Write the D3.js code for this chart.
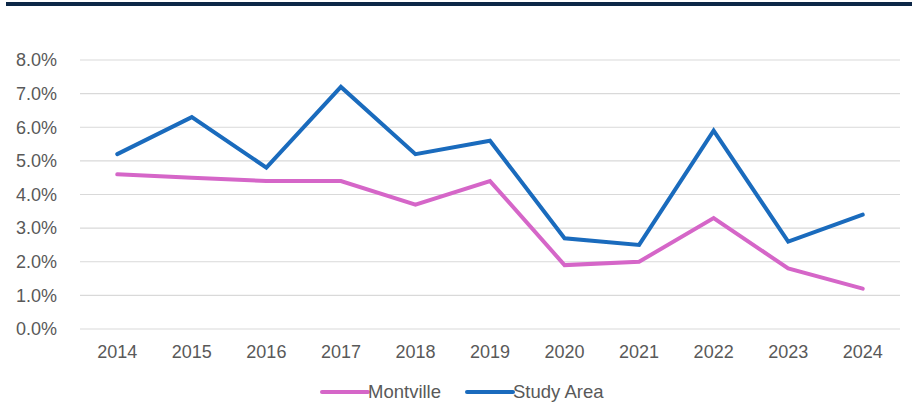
<!DOCTYPE html>
<html>
<head>
<meta charset="utf-8">
<script src="https://cdn.jsdelivr.net/npm/d3@7"></script>
<style>
  html, body { margin: 0; padding: 0; background: #ffffff; }
  svg { display: block; font-family: "Liberation Sans", Arial, sans-serif; }
</style>
</head>
<body>
<svg id="chart" width="912" height="419"></svg>
<script>
// Annual rates by year
const years = ["2014","2015","2016","2017","2018","2019","2020","2021","2022","2023","2024"];
const montville = [4.6, 4.5, 4.4, 4.4, 3.7, 4.4, 1.9, 2.0, 3.3, 1.8, 1.2];
const studyArea = [5.2, 6.3, 4.8, 7.2, 5.2, 5.6, 2.7, 2.5, 5.9, 2.6, 3.4];
const yTicks = [0, 1, 2, 3, 4, 5, 6, 7, 8];
const seriesNames = ["Montville", "Study Area"];

const colors = { "Montville": "#d566c8", "Study Area": "#1a6bbd" };
const textColor = "#595959";

const svg = d3.select("#chart");
const margin = { left: 80, right: 12, top: 60, bottom: 90 };
const W = 912, H = 419;

// Header rule across the top
svg.append("rect")
  .attr("x", 6).attr("y", 2)
  .attr("width", W - 6).attr("height", 4)
  .attr("fill", "#0d2747");

const x = d3.scaleBand()
  .domain(years)
  .range([margin.left, W - margin.right])
  .paddingInner(0).paddingOuter(0);

const y = d3.scaleLinear()
  .domain([0, 8])
  .range([329, margin.top]);

// Horizontal gridlines
svg.append("g")
  .selectAll("line")
  .data(yTicks)
  .join("line")
  .attr("x1", margin.left)
  .attr("x2", W - margin.right)
  .attr("y1", d => y(d))
  .attr("y2", d => y(d))
  .attr("stroke", "#d9d9d9")
  .attr("stroke-width", 1.2);

// Y axis labels
const yAxis = d3.axisLeft(y)
  .tickValues(yTicks)
  .tickSize(0)
  .tickPadding(0)
  .tickFormat(d => d.toFixed(1) + "%");
const gy = svg.append("g")
  .attr("transform", `translate(${margin.left - 23},0)`)
  .call(yAxis);
gy.select(".domain").remove();
gy.selectAll("text")
  .attr("fill", textColor)
  .attr("font-size", 18)
  .attr("font-family", "Liberation Sans, Arial, sans-serif");

// X axis labels
const xAxis = d3.axisBottom(x).tickSize(0).tickPadding(0);
const gx = svg.append("g")
  .attr("transform", `translate(0,345)`)
  .call(xAxis);
gx.select(".domain").remove();
gx.selectAll("text")
  .attr("fill", textColor)
  .attr("font-size", 18)
  .attr("font-family", "Liberation Sans, Arial, sans-serif");

// Series lines
const cx = d => x(d) + x.bandwidth() / 2;
const line = d3.line()
  .x((d, i) => cx(years[i]))
  .y(d => y(d));

const series = [
  { name: "Montville", values: montville },
  { name: "Study Area", values: studyArea }
];

svg.append("g")
  .selectAll("path")
  .data(series)
  .join("path")
  .attr("d", d => line(d.values))
  .attr("fill", "none")
  .attr("stroke", d => colors[d.name])
  .attr("stroke-width", 4)
  .attr("stroke-linejoin", "miter")
  .attr("stroke-linecap", "round");

// Legend
const legendItems = [
  { name: seriesNames[0], x: 322 },
  { name: seriesNames[1], x: 467 }
];
const lg = svg.append("g");
const item = lg.selectAll("g")
  .data(legendItems)
  .join("g")
  .attr("transform", d => `translate(${d.x},392)`);
item.append("line")
  .attr("x1", 0).attr("x2", 46)
  .attr("y1", 0).attr("y2", 0)
  .attr("stroke", d => colors[d.name])
  .attr("stroke-width", 4)
  .attr("stroke-linecap", "round");
item.append("text")
  .attr("x", 46)
  .attr("y", 0)
  .attr("dy", "0.35em")
  .attr("fill", textColor)
  .attr("font-size", 18.5)
  .text(d => d.name);
</script>
</body>
</html>
